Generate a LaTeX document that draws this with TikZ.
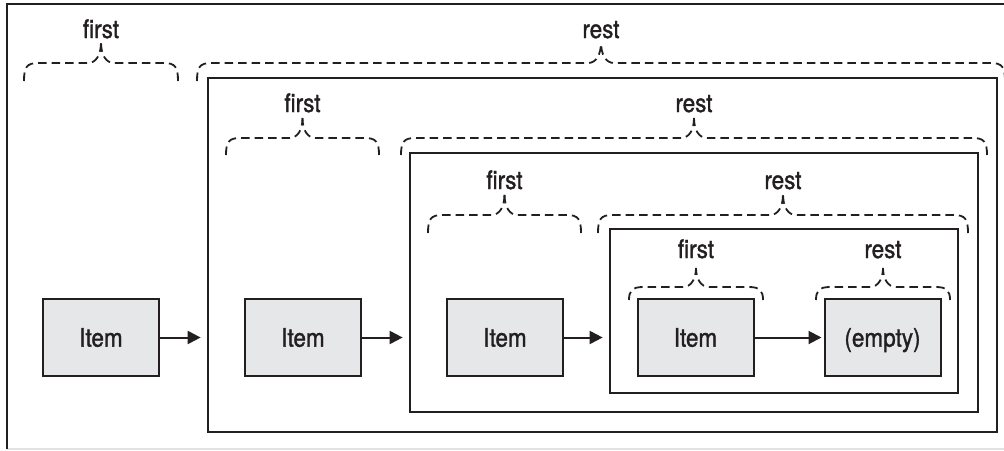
\documentclass[tikz,border=0pt]{standalone}
\usepackage{fontspec}
\setmainfont{TeX Gyre Heros}[FakeStretch=0.88,FakeBold=1.3]
\usetikzlibrary{arrows.meta}
\definecolor{ink}{HTML}{231F20}
\definecolor{boxfill}{HTML}{E6E7E8}
\definecolor{rule}{HTML}{E2E2E2}

% dashed curly brace: left end, right end, y of the flat part, end drop, tip rise
\newcommand\dashbrace[5]{%
  \pgfmathsetmacro\bM{(#1+#2)/2}%
  \draw[bracestyle] (#1,#3+#4) .. controls (#1,#3+4) and (#1+3,#3) .. (#1+14,#3)
     -- (\bM-13,#3) .. controls (\bM-5,#3) and (\bM,#3-8) .. (\bM,#3-#5);
  \draw[bracestyle] (#2,#3+#4) .. controls (#2,#3+4) and (#2-3,#3) .. (#2-14,#3)
     -- (\bM+13,#3) .. controls (\bM+5,#3) and (\bM,#3-8) .. (\bM,#3-#5);
}

\begin{document}
\begin{tikzpicture}[x=1pt,y=-1pt,
  every node/.style={font=\fontsize{25.5}{29}\selectfont, text=ink},
  item/.style={draw=ink, fill=boxfill, line width=2pt, minimum width=116pt,
    minimum height=77pt, inner sep=0pt, text height=18.3pt, text depth=0pt},
  frame/.style={draw=ink, line width=2.7pt, inner sep=0pt},
  lbl/.style={anchor=base, inner sep=0pt},
  bracestyle/.style={draw=ink, line width=1.8pt, dash pattern=on 8.5pt off 5pt},
  link/.style={draw=ink, line width=2pt, -{Triangle[length=13pt,width=13pt]}}]

\useasboundingbox (0,0) rectangle (1004,450);

% page border
\draw[rule, line width=1.5pt] (7,449) -- (1004,449);
\draw[ink, line width=2.7pt] (7,449) -- (7,4) -- (1004,4);

% nested frames
\node[frame, minimum width=789pt, minimum height=354pt] (f1) at (602.5,255) {};
\node[frame, minimum width=568pt, minimum height=259pt] (f2) at (694,282.5) {};
\node[frame, minimum width=348pt, minimum height=164pt] (f3) at (784,311) {};

% items
\node[item] (i1) at (101,337.5) {Item};
\node[item] (i2) at (303,337.5) {Item};
\node[item] (i3) at (505,337.5) {Item};
\node[item] (i4) at (695.5,337.5) {Item};
\node[item] (i5) at (882.5,337.5) {(empty)};

% links
\draw[link, shorten >=6pt] (i1.east) -- (i1.east -| f1.west);
\draw[link, shorten >=6pt] (i2.east) -- (i2.east -| f2.west);
\draw[link, shorten >=6pt] (i3.east) -- (i3.east -| f3.west);
\draw[link, shorten >=2pt] (i4.east) -- (i5.west);

% braces
\dashbrace{24}{178}{63}{18}{21}
\dashbrace{197}{1005}{63}{18}{21}
\dashbrace{226}{379}{138}{17}{20}
\dashbrace{401}{987}{138}{17}{20}
\dashbrace{428}{581}{215}{18}{21}
\dashbrace{598}{968}{215}{18}{21}
\dashbrace{629}{763}{287}{13}{19}
\dashbrace{816}{950}{287}{13}{19}

% labels
\node[lbl] (l1a) at (101,38) {first};
\node[lbl] (l1b) at (601,38) {rest};
\node[lbl] (l2a) at (302.5,112) {first};
\node[lbl] (l2b) at (694,112) {rest};
\node[lbl] (l3a) at (504.5,189) {first};
\node[lbl] (l3b) at (783,189) {rest};
\node[lbl] (l4a) at (696,258) {first};
\node[lbl] (l4b) at (883,258) {rest};
\end{tikzpicture}
\end{document}
